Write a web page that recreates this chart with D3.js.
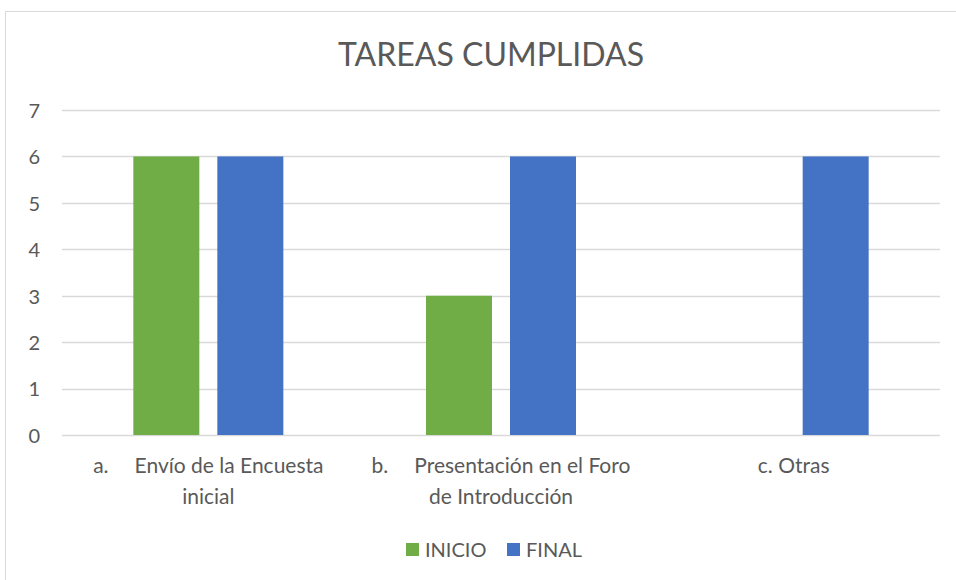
<!DOCTYPE html>
<meta charset="utf-8">
<script src="https://d3js.org/d3.v7.min.js"></script>
<body style="margin:0;background:#fff">
<div id="chart"></div>
</body>
<script>
    // data
    const categories = ["a.", "b.", "c."];
    const labelLines = [
      ["Envío de la Encuesta", "inicial"],
      ["Presentación en el Foro", "de Introducción"],
      ["Otras"]
    ];
    const seriesNames = ["INICIO", "FINAL"];
    const inicio = [6, 3, 0];
    const final = [6, 6, 6];
    const yTicks = [0, 1, 2, 3, 4, 5, 6, 7];

    const colors = {"INICIO": "#70AD47", "FINAL": "#4472C4"};
    const font = "Lato, 'Open Sans', sans-serif";
    const textColor = "#595959";

    const W = 956, H = 580;
    const plot = {left: 62, right: 940, top: 110, bottom: 435};

    const svg = d3.select("#chart").append("svg")
      .attr("width", W).attr("height", H)
      .style("font-family", font);

    // outer chart border (runs off the right and bottom edges)
    svg.append("rect")
      .attr("x", 5.5).attr("y", 11.5)
      .attr("width", 1000).attr("height", 600)
      .attr("fill", "#fff")
      .attr("stroke", "#D9D9D9");

    svg.append("text")
      .attr("x", 491).attr("y", 66)
      .attr("text-anchor", "middle")
      .style("font-size", "32px")
      .style("fill", textColor)
      .text("TAREAS CUMPLIDAS");

    const y = d3.scaleLinear().domain([0, 7]).range([plot.bottom, plot.top]);
    const x0 = d3.scaleBand().domain(categories).range([plot.left, plot.right]);
    const bw = x0.bandwidth();
    const x1 = d3.scaleBand().domain(seriesNames)
      .range([bw / 2 - 75, bw / 2 + 75])
      .paddingInner(18 / 84);

    // gridlines
    svg.append("g").selectAll("line")
      .data(yTicks)
      .join("line")
        .attr("x1", plot.left).attr("x2", plot.right)
        .attr("y1", d => Math.round(y(d)) + 0.5)
        .attr("y2", d => Math.round(y(d)) + 0.5)
        .attr("stroke", "#D9D9D9")
        .attr("stroke-width", 1.3);

    // y axis labels
    const yAxis = d3.axisLeft(y).tickValues(yTicks).tickFormat(d3.format("d"))
      .tickSize(0).tickPadding(0);
    const gy = svg.append("g").attr("transform", "translate(40,1)").call(yAxis);
    gy.select(".domain").remove();
    gy.selectAll("text")
      .style("font-family", font)
      .style("font-size", "20px")
      .style("fill", textColor);

    // bars
    const rows = categories.map((c, i) => ({cat: c, INICIO: inicio[i], FINAL: final[i]}));
    svg.append("g").selectAll("g")
      .data(rows)
      .join("g")
        .attr("transform", d => `translate(${x0(d.cat)},0)`)
      .selectAll("rect")
      .data(d => seriesNames.map(s => ({s: s, v: d[s]})))
      .join("rect")
        .attr("x", d => x1(d.s))
        .attr("width", x1.bandwidth())
        .attr("y", d => y(d.v))
        .attr("height", d => y(0) - y(d.v))
        .attr("fill", d => colors[d.s]);

    // category labels
    const lab = svg.append("g").selectAll("g")
      .data(categories)
      .join("g")
        .attr("transform", d => `translate(${x0(d) + bw / 2},0)`);

    lab.each(function(c, i) {
      const g = d3.select(this);
      const lines = labelLines[i];
      const t1 = g.append("text")
        .attr("y", 473)
        .attr("text-anchor", "middle")
        .style("font-size", "21px")
        .style("fill", textColor);
      if (lines.length > 1) {
        t1.append("tspan").text(c);
        t1.append("tspan").attr("dx", 26).text(lines[0]);
        g.append("text")
          .attr("y", 504)
          .attr("text-anchor", "middle")
          .style("font-size", "21px")
          .style("fill", textColor)
          .text(lines[1]);
      } else {
        t1.text(c + " " + lines[0]);
      }
    });

    // legend
    const leg = svg.append("g").selectAll("g")
      .data(seriesNames)
      .join("g")
        .attr("transform", (d, i) => `translate(${i === 0 ? 406 : 507},543)`);
    leg.append("rect")
      .attr("width", 13).attr("height", 13)
      .attr("fill", d => colors[d]);
    leg.append("text")
      .attr("x", 19).attr("y", 13.5)
      .style("font-size", "20px")
      .style("fill", textColor)
      .text(d => d);
</script>
